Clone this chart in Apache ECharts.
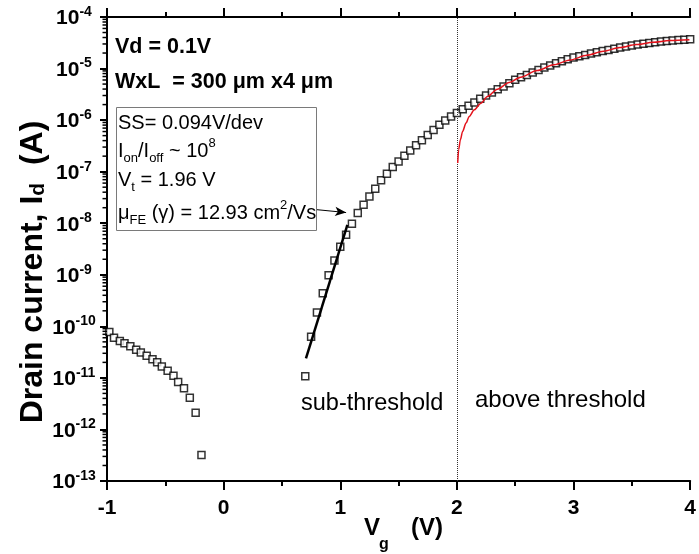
<!DOCTYPE html>
<html>
<head>
<meta charset="utf-8">
<script src="https://cdn.jsdelivr.net/npm/echarts@6/dist/echarts.min.js"></script>
<style>
  html, body { margin: 0; padding: 0; background: #fff; }
  #chart { width: 699px; height: 554px; }
</style>
</head>
<body>
<div id="chart"></div>
<script>
const FONT = '"Liberation Sans", Arial, Helvetica, sans-serif';

// Transfer curve, negative gate bias branch (leakage)
const vgLeak = [-0.98, -0.94, -0.89, -0.85, -0.80, -0.75, -0.71, -0.66, -0.61, -0.57,
                -0.53, -0.48, -0.43, -0.39, -0.34, -0.29, -0.24, -0.19];
const idLeak = [7.8e-11, 6.0e-11, 5.2e-11, 4.7e-11, 4.1e-11, 3.5e-11, 3.1e-11, 2.7e-11, 2.3e-11, 2.0e-11,
                1.66e-11, 1.38e-11, 1.10e-11, 8.3e-12, 6.3e-12, 4.1e-12, 2.1e-12, 3.2e-13];

// Transfer curve, sub-threshold through above-threshold
const vgOn = [0.70, 0.75, 0.80, 0.85, 0.90, 0.95, 1.00, 1.05, 1.10, 1.15,
              1.20, 1.25, 1.30, 1.35, 1.40, 1.45, 1.50, 1.55, 1.60, 1.65,
              1.70, 1.75, 1.80, 1.85, 1.90, 1.95, 2.00, 2.05, 2.10, 2.15,
              2.20, 2.25, 2.30, 2.35, 2.40, 2.45, 2.50, 2.55, 2.60, 2.65,
              2.70, 2.75, 2.80, 2.85, 2.90, 2.95, 3.00, 3.05, 3.10, 3.15,
              3.20, 3.25, 3.30, 3.35, 3.40, 3.45, 3.50, 3.55, 3.60, 3.65,
              3.70, 3.75, 3.80, 3.85, 3.90, 3.95, 4.00];
const idOn = [1.07e-11, 6.3e-11, 1.86e-10, 4.4e-10, 9.8e-10, 1.9e-9, 3.5e-9, 6.0e-9, 9.8e-9, 1.58e-8,
              2.29e-8, 3.31e-8, 4.68e-8, 6.8e-8, 9.1e-8, 1.23e-7, 1.58e-7, 2.04e-7, 2.57e-7, 3.24e-7,
              4.07e-7, 5.13e-7, 6.46e-7, 8.13e-7, 9.86e-7, 1.18e-6, 1.37e-6, 1.63e-6, 1.90e-6, 2.20e-6,
              2.59e-6, 3.00e-6, 3.43e-6, 3.98e-6, 4.49e-6, 5.20e-6, 6.04e-6, 6.80e-6, 7.54e-6, 8.37e-6,
              9.42e-6, 1.045e-5, 1.14e-5, 1.27e-5, 1.39e-5, 1.52e-5, 1.63e-5, 1.73e-5, 1.84e-5, 1.95e-5,
              2.07e-5, 2.18e-5, 2.30e-5, 2.42e-5, 2.55e-5, 2.67e-5, 2.79e-5, 2.92e-5, 3.03e-5, 3.14e-5,
              3.24e-5, 3.33e-5, 3.43e-5, 3.51e-5, 3.59e-5, 3.64e-5, 3.70e-5];

// Sub-threshold slope fit (straight on the log scale)
const vgSSFit = [0.706, 1.061];
const idSSFit = [2.4e-11, 9.3e-9];

// Above-threshold model fit
const vgFit = [2.007, 2.015, 2.030, 2.049, 2.078, 2.106, 2.149, 2.206, 2.262, 2.347, 2.447,
               2.546, 2.688, 2.830, 2.972, 3.114, 3.256, 3.398, 3.540, 3.682, 3.824, 3.994];
const idFit = [1.47e-7, 2.67e-7, 4.17e-7, 6.04e-7, 8.75e-7, 1.18e-6, 1.58e-6, 2.13e-6, 2.87e-6, 3.98e-6, 5.36e-6,
               6.79e-6, 9.14e-6, 1.18e-5, 1.47e-5, 1.81e-5, 2.17e-5, 2.55e-5, 2.92e-5, 3.24e-5, 3.49e-5, 3.62e-5];

// Threshold marker and annotation arrow
const vThreshold = 2;
const arrowFrom = [0.79, 1.84e-8];
const arrowTo = [1.05, 1.61e-8];

// Axes
const xMin = -1, xMax = 4, xStep = 1;
const yDecades = [-13, -12, -11, -10, -9, -8, -7, -6, -5, -4];
const yMinorMultipliers = [2, 3, 4, 5, 6, 7, 8, 9];

const zip = (xs, ys) => xs.map((x, i) => [x, ys[i]]);

const chart = echarts.init(document.getElementById('chart'), null, { renderer: 'canvas' });

function xAxisBase() {
  return {
    type: 'value', min: xMin, max: xMax, interval: xStep,
    axisLine: { show: true, onZero: false, lineStyle: { color: '#000', width: 2 } },
    axisTick: { show: true, inside: false, length: 9, lineStyle: { color: '#000', width: 2 } },
    minorTick: { show: true, splitNumber: 2, length: 5, lineStyle: { color: '#000', width: 2 } },
    splitLine: { show: false },
    minorSplitLine: { show: false }
  };
}

const boxRich = {
  n: { fontSize: 20, fontFamily: FONT, lineHeight: 28, verticalAlign: 'middle', color: '#000' },
  sub: { fontSize: 13, fontFamily: FONT, lineHeight: 13, verticalAlign: 'bottom', color: '#000' },
  sup: { fontSize: 13, fontFamily: FONT, lineHeight: 13, verticalAlign: 'top', color: '#000' }
};

function label(x, y, text, opts) {
  return {
    type: 'text', x: x, y: y, z: 100,
    style: Object.assign({
      text: text, fill: '#000', font: '20px ' + FONT,
      verticalAlign: 'middle', align: 'left'
    }, opts || {})
  };
}

const graphics = [
  // parameter box
  {
    type: 'rect', z: 90,
    shape: { x: 116.5, y: 107.5, width: 200, height: 123 },
    style: { fill: '#fff', stroke: '#7a7a7a', lineWidth: 1 }
  },
  label(115, 47, 'Vd = 0.1V', { font: 'bold 21.5px ' + FONT }),
  label(115, 82, 'WxL  = 300 \u03bcm x4 \u03bcm', { font: 'bold 21.5px ' + FONT }),
  label(118, 123, 'SS= 0.094V/dev', { font: '20px ' + FONT }),
  label(118, 151, '{n|I}{sub|on}{n|/I}{sub|off}{n| ~ 10}{sup|8}', { rich: boxRich }),
  label(118, 180, '{n|V}{sub|t}{n| = 1.96 V}', { rich: boxRich }),
  label(118, 213, '{n|\u03bc}{sub|FE}{n| (\u03b3) = 12.93 cm}{sup|2}{n|/Vs}', { rich: boxRich }),
  // region captions
  label(301, 404, 'sub-threshold', { font: '23.5px ' + FONT }),
  label(475, 400, 'above threshold', { font: '24px ' + FONT }),
  // x axis title
  label(372, 528, 'V', { font: 'bold 24px ' + FONT, align: 'center' }),
  label(384, 545, 'g', { font: 'bold 16px ' + FONT, align: 'center' }),
  label(427, 528, '(V)', { font: 'bold 24px ' + FONT, align: 'center' }),
  // y axis title
  {
    type: 'text', x: 33, y: 272, rotation: Math.PI / 2, z: 100,
    style: {
      text: '{t|Drain current, I}{d|d}{t|  (A)}',
      align: 'center', verticalAlign: 'middle',
      rich: {
        t: { fontSize: 32, fontWeight: 'bold', fontFamily: FONT, lineHeight: 32, verticalAlign: 'top', color: '#000' },
        d: { fontSize: 21, fontWeight: 'bold', fontFamily: FONT, lineHeight: 22, padding: [24, 0, 0, 0], verticalAlign: 'bottom', color: '#000' }
      }
    }
  }
];

const option = {
  animation: false,
  backgroundColor: '#fff',
  grid: { left: 107, right: 5, top: 17, bottom: 73 },
  xAxis: [
    Object.assign(xAxisBase(), {
      position: 'bottom',
      axisLabel: { show: true, margin: 17, color: '#000', fontSize: 21, fontWeight: 'bold', fontFamily: FONT }
    }),
    Object.assign(xAxisBase(), {
      position: 'top',
      axisLabel: { show: false }
    })
  ],
  yAxis: [{
    type: 'log', logBase: 10, min: 1e-13, max: 1e-4,
    position: 'left',
    axisLine: { show: true, onZero: false, lineStyle: { color: '#000', width: 2 } },
    axisTick: { show: true, inside: false, length: 7, lineStyle: { color: '#000', width: 2 } },
    splitLine: { show: false },
    axisLabel: {
      show: true, margin: 33, align: 'center',
      formatter: v => '{b|10}{s|' + Math.round(Math.log10(v)) + '}',
      rich: {
        b: { fontSize: 21, fontWeight: 'bold', fontFamily: FONT, color: '#000', lineHeight: 24, verticalAlign: 'bottom' },
        s: { fontSize: 14, fontWeight: 'bold', fontFamily: FONT, color: '#000', lineHeight: 14, verticalAlign: 'top' }
      }
    }
  }],
  series: [
    {
      name: 'Id leakage',
      type: 'scatter',
      data: zip(vgLeak, idLeak),
      symbol: 'rect', symbolSize: 7,
      itemStyle: { color: '#fff', borderColor: '#000', borderWidth: 1.5 },
      z: 3
    },
    {
      name: 'Id',
      type: 'scatter',
      data: zip(vgOn, idOn),
      symbol: 'rect', symbolSize: 7,
      itemStyle: { color: '#fff', borderColor: '#000', borderWidth: 1.5 },
      markLine: {
        silent: true, symbol: 'none',
        label: { show: false },
        lineStyle: { color: '#333', width: 1, type: 'dotted' },
        data: [{ xAxis: vThreshold }]
      },
      z: 3
    },
    {
      name: 'SS fit',
      type: 'line',
      data: zip(vgSSFit, idSSFit),
      showSymbol: false, symbol: 'none',
      lineStyle: { color: '#000', width: 2.5 },
      markLine: {
        silent: true,
        symbol: ['none', 'arrow'], symbolSize: [7, 11],
        label: { show: false },
        lineStyle: { color: '#000', width: 1, type: 'solid' },
        data: [[{ coord: arrowFrom }, { coord: arrowTo }]]
      },
      z: 4
    },
    {
      name: 'fit',
      type: 'line',
      data: zip(vgFit, idFit),
      showSymbol: false, symbol: 'none',
      smooth: 0.3, smoothMonotone: 'x',
      lineStyle: { color: '#e3121b', width: 1.5 },
      z: 6
    }
  ],
  graphic: graphics
};

chart.setOption(option);

// short log ticks at 2..9 inside each decade, placed through the y scale of the chart
const tickLines = [];
yDecades.slice(0, -1).forEach(d => {
  yMinorMultipliers.forEach(m => {
    const p = chart.convertToPixel({ xAxisIndex: 0, yAxisIndex: 0 }, [xMin, m * Math.pow(10, d)]);
    tickLines.push({
      type: 'line', z: 50, silent: true,
      shape: { x1: p[0] - 4.5, y1: p[1], x2: p[0], y2: p[1] },
      style: { stroke: '#000', lineWidth: 1.5 }
    });
  });
});
chart.setOption({ graphic: graphics.concat(tickLines) });
</script>
</body>
</html>
